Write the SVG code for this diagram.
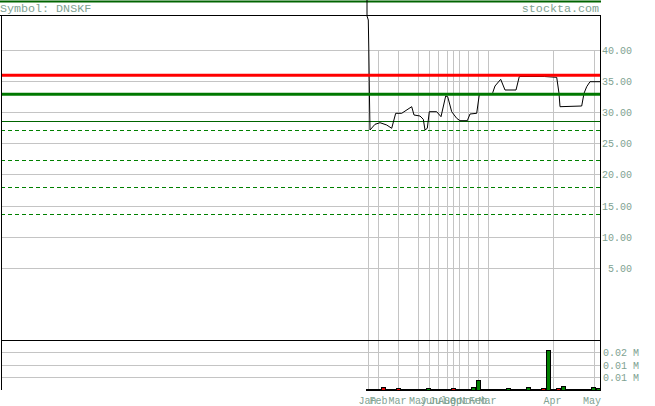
<svg xmlns="http://www.w3.org/2000/svg" width="655" height="406" viewBox="0 0 655 406">
<style>
.g{stroke:#c4c4c4;stroke-width:1;fill:none}
.t{font-family:"Liberation Mono","DejaVu Sans Mono",monospace;fill:#80a292}
.ax{font-size:10px}
.hd{font-size:11.7px}
.vr{fill:#e00000;stroke:#000;stroke-width:1}
.vg{fill:#008000;stroke:#000;stroke-width:1}
.dash{stroke:#008000;stroke-width:1;stroke-dasharray:4 3;fill:none}
</style>
<rect x="0" y="0" width="655" height="406" fill="#fff"/>
<line x1="0" y1="1.5" x2="601" y2="1.5" stroke="#006400" stroke-width="2"/>
<text class="t hd" x="0" y="11.5">Symbol: DNSKF</text>
<text class="t hd" x="599" y="11.5" text-anchor="end">stockta.com</text>
<g id="grid" shape-rendering="crispEdges">
<line class="g" x1="1" y1="50.5" x2="600" y2="50.5"/>
<line class="g" x1="1" y1="81.5" x2="600" y2="81.5"/>
<line class="g" x1="1" y1="112.5" x2="600" y2="112.5"/>
<line class="g" x1="1" y1="143.5" x2="600" y2="143.5"/>
<line class="g" x1="1" y1="174.5" x2="600" y2="174.5"/>
<line class="g" x1="1" y1="206.5" x2="600" y2="206.5"/>
<line class="g" x1="1" y1="237.5" x2="600" y2="237.5"/>
<line class="g" x1="1" y1="268.5" x2="600" y2="268.5"/>
<line class="g" x1="1" y1="352.5" x2="600" y2="352.5"/>
<line class="g" x1="1" y1="365.5" x2="600" y2="365.5"/>
<line class="g" x1="1" y1="377.5" x2="600" y2="377.5"/>
<line class="g" x1="368.5" y1="50" x2="368.5" y2="390"/>
<line class="g" x1="378.5" y1="50" x2="378.5" y2="390"/>
<line class="g" x1="398.5" y1="50" x2="398.5" y2="390"/>
<line class="g" x1="418.5" y1="50" x2="418.5" y2="390"/>
<line class="g" x1="429.5" y1="50" x2="429.5" y2="390"/>
<line class="g" x1="438.5" y1="50" x2="438.5" y2="390"/>
<line class="g" x1="447.5" y1="50" x2="447.5" y2="390"/>
<line class="g" x1="453.5" y1="50" x2="453.5" y2="390"/>
<line class="g" x1="459.5" y1="50" x2="459.5" y2="390"/>
<line class="g" x1="468.5" y1="50" x2="468.5" y2="390"/>
<line class="g" x1="478.5" y1="50" x2="478.5" y2="390"/>
<line class="g" x1="488.5" y1="50" x2="488.5" y2="390"/>
<line class="g" x1="553.5" y1="50" x2="553.5" y2="390"/>
<line class="g" x1="594.5" y1="50" x2="594.5" y2="390"/>
</g>
<g id="levels" shape-rendering="crispEdges">
<line class="dash" x1="1" y1="130.5" x2="600" y2="130.5"/>
<line class="dash" x1="1" y1="160.5" x2="600" y2="160.5"/>
<line class="dash" x1="1" y1="187.5" x2="600" y2="187.5"/>
<line class="dash" x1="1" y1="214.5" x2="600" y2="214.5"/>
<line x1="1" y1="121.5" x2="600" y2="121.5" stroke="#006400" stroke-width="1"/>
</g>
<g id="price">
<polyline fill="none" stroke="#000" stroke-width="1" points="367,0 367,16 368.3,20 368.8,50 369.5,100 370,130 375,124.3 380,122.7 386.7,125 391.7,128.3 395.7,113.3 401.7,113.3 411.7,106.7 414,115 420,116 423.3,119.3 425,130 427.3,128.3 429.3,111.7 436.7,111.7 441,116.7 445.7,96 447.7,96.7 451.7,111.7 456.7,118.3 460,120.7 467.3,120.7 470,114 476.7,113.3 479.3,94.5 491,94.5 492.7,92.7 495,86 500.7,79.3 505,90 516,90 519.3,76.5 544.3,76.5 556.7,77.3 559,93.3 560,106.7 581.7,106 584,93.3 586.7,86.7 590,81.7 600,81.7"/>
</g>
<g id="support-resistance">
<line x1="1" y1="75.3" x2="600" y2="75.3" stroke="#ff0000" stroke-width="3"/>
<line x1="1" y1="94.3" x2="600" y2="94.3" stroke="#007800" stroke-width="3"/>
</g>
<g id="volume" shape-rendering="crispEdges">
<line x1="366" y1="389.5" x2="600" y2="389.5" stroke="#000" stroke-width="2"/>
<rect class="vr" x="381.5" y="387.5" width="4" height="2.5"/>
<rect class="vr" x="396.5" y="388.5" width="4" height="1.5"/>
<rect class="vg" x="426.5" y="388.5" width="4" height="1.5"/>
<rect class="vr" x="451.5" y="388.5" width="4" height="1.5"/>
<rect class="vg" x="471.5" y="387.5" width="4" height="2.5"/>
<rect class="vg" x="476.5" y="380.5" width="4" height="9.5"/>
<rect class="vg" x="506.5" y="388.5" width="4" height="1.5"/>
<rect class="vg" x="526.5" y="387.5" width="4" height="2.5"/>
<rect class="vr" x="541.5" y="388.5" width="4" height="1.5"/>
<rect class="vg" x="546.5" y="350.5" width="4" height="39.5"/>
<rect class="vr" x="556.5" y="388.5" width="4" height="1.5"/>
<rect class="vg" x="561.5" y="386.5" width="4" height="3.5"/>
<rect class="vg" x="591.5" y="387.5" width="4" height="2.5"/>
<rect class="vg" x="596.5" y="388.5" width="4" height="1.5"/>
</g>
<g id="frame" shape-rendering="crispEdges" stroke="#000" stroke-width="1" fill="none">
<line x1="0" y1="15.5" x2="601" y2="15.5"/>
<line x1="1.5" y1="15" x2="1.5" y2="390"/>
<line x1="600.5" y1="15" x2="600.5" y2="391"/>
<line x1="1" y1="340.5" x2="601" y2="340.5"/>
</g>
<g id="y-labels" class="t ax" text-anchor="end">
<text x="632" y="54">40.00</text>
<text x="632" y="85">35.00</text>
<text x="632" y="116">30.00</text>
<text x="632" y="147">25.00</text>
<text x="632" y="178">20.00</text>
<text x="632" y="210">15.00</text>
<text x="632" y="241">10.00</text>
<text x="632" y="272">5.00</text>
</g>
<g id="vol-labels" class="t ax">
<text x="603" y="356">0.02 M</text>
<text x="603" y="369">0.01 M</text>
<text x="603" y="381">0.01 M</text>
</g>
<g id="x-labels" class="t ax" text-anchor="middle">
<text x="367.5" y="403.5">Jan</text>
<text x="378.5" y="403.5">Feb</text>
<text x="397.5" y="403.5">Mar</text>
<text x="418" y="403.5">May</text>
<text x="429" y="403.5">Jun</text>
<text x="438" y="403.5">Jul</text>
<text x="447" y="403.5">Aug</text>
<text x="453" y="403.5">Sep</text>
<text x="459" y="403.5">Oct</text>
<text x="468" y="403.5">Nov</text>
<text x="478" y="403.5">Feb</text>
<text x="487.5" y="403.5">Mar</text>
<text x="552.5" y="403.5">Apr</text>
<text x="592" y="403.5">May</text>
</g>
</svg>
